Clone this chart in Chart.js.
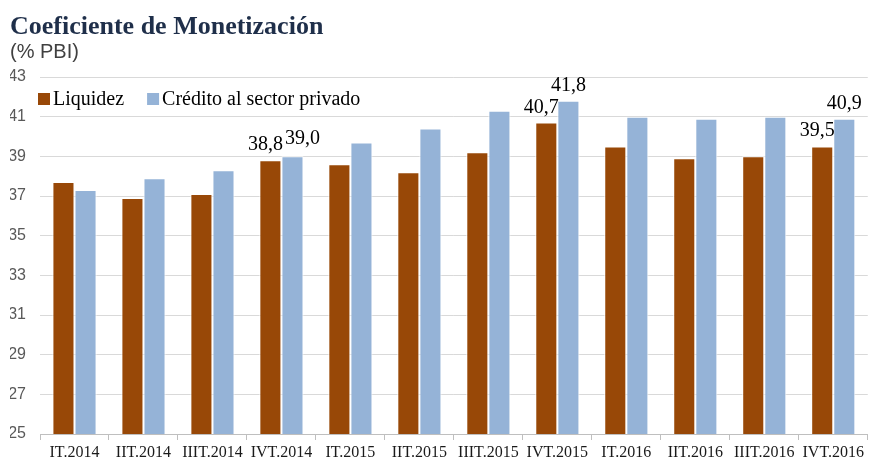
<!DOCTYPE html>
<html>
<head>
<meta charset="utf-8">
<script src="https://cdn.jsdelivr.net/npm/chart.js@4"></script>
<style>
  body { margin: 0; background: #ffffff; }
</style>
</head>
<body>
<canvas id="chart" width="869" height="461"></canvas>
<script>
// Data
const quarters = ['IT.2014', 'IIT.2014', 'IIIT.2014', 'IVT.2014', 'IT.2015', 'IIT.2015',
                  'IIIT.2015', 'IVT.2015', 'IT.2016', 'IIT.2016', 'IIIT.2016', 'IVT.2016'];
const liquidez = [37.7, 36.9, 37.1, 38.8, 38.6, 38.2, 39.2, 40.7, 39.5, 38.9, 39.0, 39.5];
const credito = [37.3, 37.9, 38.3, 39.0, 39.7, 40.4, 41.3, 41.8, 41.0, 40.9, 41.0, 40.9];
const labeledQuarters = [3, 7, 11];

const brown = '#984807';
const blue = '#95B3D7';
const serif = '"Liberation Serif", "DejaVu Serif", serif';
const sans = '"Liberation Sans", Arial, sans-serif';

// Legend drawn inside the plot, top-left
const insideLegend = {
    id: 'insideLegend',
    afterDraw(chart) {
        const ctx = chart.ctx;
        const area = chart.chartArea;
        let x = area.left - 2;
        const y = area.top + 22;
        ctx.save();
        ctx.font = '20px ' + serif;
        ctx.textBaseline = 'middle';
        ctx.textAlign = 'left';
        chart.data.datasets.forEach(ds => {
            ctx.fillStyle = ds.backgroundColor;
            ctx.fillRect(x, y - 6, 12, 12);
            ctx.fillStyle = '#000000';
            ctx.fillText(ds.label, x + 15, y + 1);
            x += 15 + ctx.measureText(ds.label).width + 23;
        });
        ctx.restore();
    }
};

// Value labels on selected quarters (nudged apart where they would collide)
const valueLabels = {
    id: 'valueLabels',
    afterDatasetsDraw(chart) {
        const ctx = chart.ctx;
        ctx.save();
        ctx.font = '20px ' + serif;
        ctx.fillStyle = '#000000';
        ctx.textAlign = 'center';
        ctx.textBaseline = 'alphabetic';
        chart.data.datasets.forEach((ds, i) => {
            const meta = chart.getDatasetMeta(i);
            labeledQuarters.forEach(j => {
                const bar = meta.data[j];
                const text = ds.data[j].toFixed(1).replace('.', ',');
                let dx = i === 0 ? -5 : 0;
                let dy = 10;
                if (i === 1 && j === 3) { dx = 10; dy = 12; }
                ctx.fillText(text, bar.x + dx, bar.y - dy);
            });
        });
        ctx.restore();
    }
};

new Chart(document.getElementById('chart'), {
    type: 'bar',
    data: {
        labels: quarters,
        datasets: [{
            label: 'Liquidez',
            data: liquidez,
            backgroundColor: brown,
            borderColor: '#ffffff',
            borderWidth: 1,
            categoryPercentage: 0.64,
            barPercentage: 1
        }, {
            label: 'Crédito al sector privado',
            data: credito,
            backgroundColor: blue,
            borderColor: '#ffffff',
            borderWidth: 1,
            categoryPercentage: 0.64,
            barPercentage: 1
        }]
    },
    options: {
        responsive: false,
        animation: false,
        devicePixelRatio: 1,
        layout: {
            padding: { left: 10, right: 0, top: 0, bottom: 0 }
        },
        plugins: {
            legend: { display: false },
            tooltip: { enabled: false },
            title: {
                display: true,
                text: 'Coeficiente de Monetización',
                align: 'start',
                color: '#1F2F4A',
                font: { family: serif, size: 26, weight: 'bold', lineHeight: 1.0 },
                padding: { top: 14, bottom: 0 }
            },
            subtitle: {
                display: true,
                text: '(% PBI)',
                align: 'start',
                color: '#404040',
                font: { family: sans, size: 20, lineHeight: 1.2 },
                padding: { top: 0, bottom: 13 }
            }
        },
        scales: {
            x: {
                afterFit(scale) { scale.height = 27; },
                grid: {
                    display: true,
                    drawOnChartArea: false,
                    color: '#BFBFBF',
                    tickLength: 6
                },
                border: { color: '#BFBFBF' },
                ticks: {
                    color: '#1a1a1a',
                    font: { family: serif, size: 16, lineHeight: 1.0 },
                    padding: 5,
                    maxRotation: 0,
                    autoSkip: false
                }
            },
            y: {
                min: 25,
                max: 43,
                afterFit(scale) { scale.width = 30; },
                ticks: {
                    stepSize: 2,
                    color: '#595959',
                    font: { family: sans, size: 16 },
                    padding: 14
                },
                grid: {
                    color: '#D9D9D9',
                    drawTicks: false
                },
                border: { display: false }
            }
        }
    },
    plugins: [insideLegend, valueLabels]
});
</script>
</body>
</html>
